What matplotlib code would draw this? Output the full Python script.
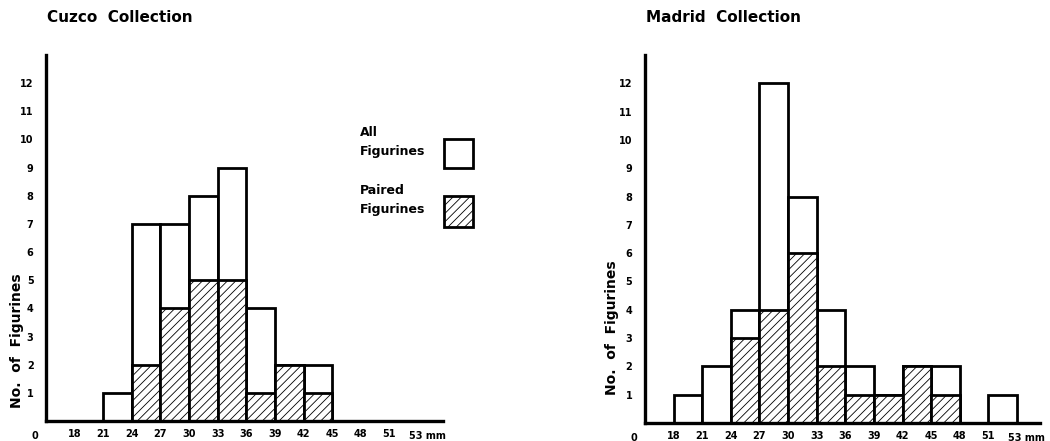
import matplotlib.pyplot as plt
from matplotlib.patches import Rectangle

# bin left edges (mm) and counts
cuzco_bins = [21, 24, 27, 30, 33, 36, 39, 42]
cuzco_all = [1, 7, 7, 8, 9, 4, 2, 2]
cuzco_paired = [0, 2, 4, 5, 5, 1, 2, 1]

madrid_bins = [18, 21, 24, 27, 30, 33, 36, 39, 42, 45, 51]
madrid_all = [1, 2, 4, 12, 8, 4, 2, 1, 2, 2, 1]
madrid_paired = [0, 0, 3, 4, 6, 2, 1, 1, 2, 1, 0]

xticks = [18, 21, 24, 27, 30, 33, 36, 39, 42, 45, 48, 51]
yticks = list(range(1, 13))
bin_width = 3

plt.rcParams['hatch.linewidth'] = 0.6
W, H = 1050, 441
fig = plt.figure(figsize=(W / 100, H / 100), dpi=100)

num_font = dict(family=['Liberation Sans Narrow', 'DejaVu Sans'], fontsize=7, fontweight='bold')
lbl_font = dict(family='DejaVu Sans', fontweight='bold')


def panel(rect, bins, all_counts, paired_counts, title, ylab_xy):
    ax = fig.add_axes(rect)
    ax.bar(bins, all_counts, width=bin_width, align='edge', color='white',
           edgecolor='black', linewidth=2, clip_on=False, zorder=2)
    keep = [i for i, v in enumerate(paired_counts) if v > 0]
    ax.bar([bins[i] for i in keep], [paired_counts[i] for i in keep], width=bin_width,
           align='edge', color='white', edgecolor='black', linewidth=2, hatch='////',
           clip_on=False, zorder=3)
    ax.set_xlim(15, 15 + rect[2] * W / 9.54)
    ax.set_ylim(0, 13.0)
    for s in ['top', 'right']:
        ax.spines[s].set_visible(False)
    for s in ['left', 'bottom']:
        ax.spines[s].set_linewidth(2.4)
        ax.spines[s].set_zorder(4)
    ax.set_xticks(xticks)
    ax.set_xticklabels([str(t) for t in xticks], **num_font)
    ax.set_yticks(yticks)
    ax.set_yticklabels([str(t) for t in yticks], **num_font)
    ax.tick_params(axis='x', length=0, pad=6)
    ax.tick_params(axis='y', length=0, pad=9)
    ax.annotate('53 mm', xy=(53, 0), xytext=(0, -10.5), textcoords='offset points',
                ha='left', va='center', **num_font)
    ax.annotate('0', xy=(15, 0), xytext=(-8, -10.5), textcoords='offset points',
                ha='center', va='center', **num_font)
    ax.set_ylabel('No.  of  Figurines', fontsize=10, **lbl_font)
    ax.yaxis.set_label_coords(*ylab_xy)
    fig.text(rect[0] + 1 / W, 1 - 18 / H, title, ha='left', va='center',
             fontsize=11, **lbl_font)
    return ax


panel([46 / W, 20 / H, 397 / W, 366 / H], cuzco_bins, cuzco_all, cuzco_paired,
      'Cuzco  Collection', (-0.055, 0.22))
panel([645 / W, 18 / H, 395 / W, 368 / H], madrid_bins, madrid_all, madrid_paired,
      'Madrid  Collection', (-0.066, 0.26))

# legend (left panel)
fig.add_artist(Rectangle((444 / W, 1 - 168 / H), 29 / W, 29 / H, transform=fig.transFigure,
                         facecolor='white', edgecolor='black', linewidth=2))
fig.add_artist(Rectangle((444 / W, 1 - 227 / H), 29 / W, 31 / H, transform=fig.transFigure,
                         facecolor='white', edgecolor='black', linewidth=2, hatch='////'))
fig.text(360 / W, 1 - 142 / H, 'All\nFigurines', ha='left', va='center', fontsize=9,
         linespacing=1.5, **lbl_font)
fig.text(360 / W, 1 - 200 / H, 'Paired\nFigurines', ha='left', va='center', fontsize=9,
         linespacing=1.5, **lbl_font)

fig.savefig('out.png', dpi=100)
